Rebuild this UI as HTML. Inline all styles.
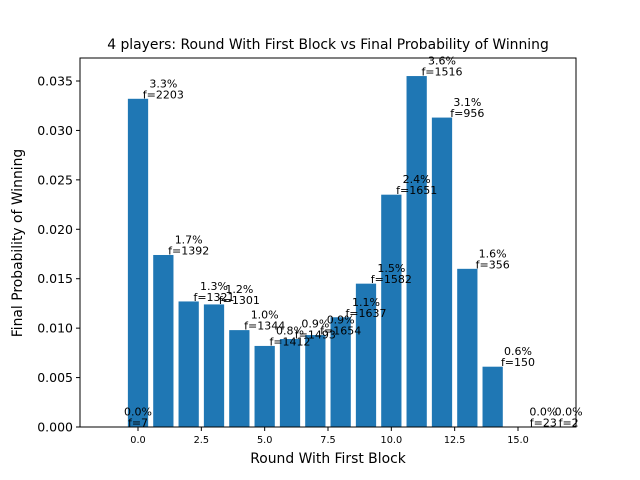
<!DOCTYPE html>
<html><head><meta charset="utf-8"><style>
body{margin:0;background:#fff}
svg{display:block;font-family:"DejaVu Sans","Liberation Sans",sans-serif}
</style></head><body>
<svg id="chart" width="640" height="480">
<rect width="640" height="480" fill="#fff"/>
<text x="328" y="49" text-anchor="middle" font-size="13.9">4 players: Round With First Block vs Final Probability of Winning</text>
<text x="328" y="463" text-anchor="middle" font-size="13.9">Round With First Block</text>
<text transform="translate(22,243) rotate(-90)" text-anchor="middle" font-size="13.9">Final Probability of Winning</text>
<g id="bars"></g><g id="labels"></g><g id="ticks"></g>
<rect x="80" y="58" width="496" height="369" fill="none" stroke="#000" stroke-width="1"/>
</svg>
<script>
const rounds=[-1,0,1,2,3,4,5,6,7,8,9,10,11,12,13,14,15,16];
const probs=[0,0.0332,0.0174,0.0127,0.0124,0.0098,0.0082,0.0089,0.0093,0.0111,0.0145,0.0235,0.0355,0.0313,0.0160,0.0061,0,0];
const pctLabels=["0.0%","3.3%","1.7%","1.3%","1.2%","1.0%","0.8%","0.9%","0.9%","1.1%","1.5%","2.4%","3.6%","3.1%","1.6%","0.6%","0.0%","0.0%"];
const freqs=[7,2203,1392,1321,1301,1344,1412,1493,1654,1637,1582,1651,1516,956,356,150,23,2];
const xTicks=[0,2.5,5,7.5,10,12.5,15];
const yTicks=[0,0.005,0.01,0.015,0.02,0.025,0.03,0.035];
const NS="http://www.w3.org/2000/svg";
const L=80,R=576,T=58,B=427;
const xmin=-2.29,xmax=17.29;
const xs=v=>L+(v-xmin)/(xmax-xmin)*(R-L);
const ys=v=>B-v/0.035*(B-81);
const bg=document.getElementById('bars'),lg=document.getElementById('labels'),tg=document.getElementById('ticks');
function mk(tag,attrs,parent){const e=document.createElementNS(NS,tag);for(const k in attrs)e.setAttribute(k,attrs[k]);parent.appendChild(e);return e;}
const bw=0.8*(xs(1)-xs(0));
rounds.forEach((r,i)=>{
  const y=ys(probs[i]);
  const b=mk('rect',{x:xs(r)-bw/2,y:y,width:bw,height:B-y,fill:'#1f77b4'},bg);
  
  
  const cx=xs(r+1);
  const t1=mk('text',{x:cx,y:y-11.5,'text-anchor':'middle','font-size':'11'},lg);
  t1.textContent=pctLabels[i];
  
  
  const t2=mk('text',{x:cx,y:y-0.5,'text-anchor':'middle','font-size':'11'},lg);
  t2.textContent='f='+freqs[i];
  
  
});
xTicks.forEach(v=>{
  const x=xs(v);
  mk('line',{x1:x,x2:x,y1:B,y2:B+4,stroke:'#000'},tg);
  const t=mk('text',{x:x,y:B+16,'text-anchor':'middle','font-size':'9.7'},tg);
  t.textContent=v.toFixed(1);
  
  
});
yTicks.forEach(v=>{
  const y=ys(v);
  mk('line',{x1:L-4,x2:L,y1:y,y2:y,stroke:'#000'},tg);
  const t=mk('text',{x:L-7,y:y+4.5,'text-anchor':'end','font-size':'12.5'},tg);
  t.textContent=v.toFixed(3);
  
  
});
</script>
</body></html>
